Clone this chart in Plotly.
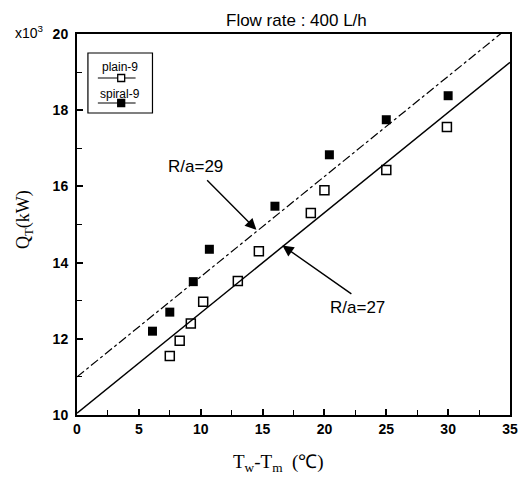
import plotly.graph_objects as go

# Measured heat transfer rate vs. wall-to-mean temperature difference
plain_dt = [7.5, 8.3, 9.2, 10.2, 13.0, 14.7, 18.9, 20.0, 25.0, 29.9]
plain_q = [11.55, 11.95, 12.4, 12.97, 13.52, 14.3, 15.3, 15.9, 16.43, 17.56]
spiral_dt = [6.1, 7.5, 9.4, 10.7, 16.0, 20.4, 25.0, 30.0]
spiral_q = [12.2, 12.7, 13.5, 14.35, 15.48, 16.83, 17.75, 18.38]

# Correlation lines (Q = a + b * dT)
fit_dt = [0, 35]
fit27_q = [10.05, 10.05 + 0.263 * 35]
fit29_q = [11.0, 11.0 + 0.263 * 35]

x_ticks = [0, 5, 10, 15, 20, 25, 30, 35]
y_ticks = [10, 12, 14, 16, 18, 20]

serif = "Liberation Serif, Times New Roman, serif"
sans = "Liberation Sans, Arial, sans-serif"

fig = go.Figure()
fig.add_trace(go.Scatter(x=fit_dt, y=fit27_q, mode="lines",
                         line=dict(color="black", width=1.5), showlegend=False))
fig.add_trace(go.Scatter(x=fit_dt, y=fit29_q, mode="lines",
                         line=dict(color="black", width=1.2, dash="dashdot"), showlegend=False))
fig.add_trace(go.Scatter(x=plain_dt, y=plain_q, mode="markers", name="plain-9",
                         marker=dict(symbol="square-open", size=9, color="black",
                                     line=dict(width=1.5)), showlegend=False))
fig.add_trace(go.Scatter(x=spiral_dt, y=spiral_q, mode="markers", name="spiral-9",
                         marker=dict(symbol="square", size=9, color="black"), showlegend=False))

axis_common = dict(showgrid=False, zeroline=False, showline=True, linecolor="black",
                   linewidth=2, mirror=True, ticks="inside", ticklen=6, tickwidth=1.5,
                   tickcolor="black",
                   tickfont=dict(family=sans, size=14, color="black", weight="bold"))

fig.update_xaxes(range=[0, 35], tickvals=x_ticks,
                 minor=dict(dtick=2.5, ticks="inside", ticklen=5, tickwidth=1.2, tickcolor="black"),
                 **axis_common)
fig.update_yaxes(range=[10, 20], tickvals=y_ticks, ticklabelstandoff=4,
                 minor=dict(dtick=1, ticks="inside", ticklen=5, tickwidth=1.2, tickcolor="black"),
                 **axis_common)

annotations = [
    dict(text="Flow rate : 400 L/h", xref="paper", yref="paper", x=(298 - 77) / 436, y=1.0,
         xanchor="center", yanchor="middle", yshift=14, showarrow=False,
         font=dict(family=sans, size=17, color="black")),
    dict(text="T<sub>w</sub>-T<sub>m</sub>  (℃)", xref="paper", yref="paper",
         x=(280 - 77) / 436, y=0, yanchor="middle", xanchor="center", yshift=-48,
         showarrow=False, font=dict(family=serif, size=19, color="black")),
    dict(text="Q<sub>T</sub>(kW)", xref="paper", yref="paper", x=0, y=(415 - 220) / 381,
         xanchor="center", yanchor="middle", xshift=-(77 - 24), textangle=-90,
         showarrow=False, font=dict(family=serif, size=18, color="black")),
    dict(text="x10<sup>3</sup>", xref="paper", yref="paper", x=0, y=1.0,
         xshift=-(77 - 46), xanchor="right", yanchor="middle", yshift=2, showarrow=False,
         font=dict(family=sans, size=14, color="black")),
    # correlation labels and pointer arrows
    dict(text="R/a=29", x=9.6, y=16.51, showarrow=False,
         font=dict(family=sans, size=17, color="black")),
    dict(text="", x=14.5, y=14.86, ax=10.4, ay=16.2, axref="x", ayref="y",
         showarrow=True, arrowhead=2, arrowsize=1.6, arrowwidth=1.4, arrowcolor="black"),
    dict(text="R/a=27", x=22.7, y=12.83, showarrow=False,
         font=dict(family=sans, size=17, color="black")),
    dict(text="", x=16.6, y=14.45, ax=22.3, ay=13.15, axref="x", ayref="y",
         showarrow=True, arrowhead=2, arrowsize=1.6, arrowwidth=1.4, arrowcolor="black"),
]

# Hand-built legend box in the upper-left corner
def px_x(p):
    return (p - 77) / 436


def px_y(p):
    return (415 - p) / 381


shapes = [dict(type="rect", xref="paper", yref="paper", x0=px_x(88), x1=px_x(153),
               y0=px_y(113), y1=px_y(53),
               line=dict(color="black", width=1.2), fillcolor="white", layer="above")]
for label, ty, sy, filled in [("plain-9", 67, 78, False), ("spiral-9", 94, 103, True)]:
    annotations.append(dict(text=label, xref="paper", yref="paper", x=px_x(120),
                            y=px_y(ty), xanchor="center", yanchor="middle", showarrow=False,
                            font=dict(family=sans, size=12, color="black")))
    shapes.append(dict(type="line", xref="paper", yref="paper", x0=px_x(98),
                       x1=px_x(136), y0=px_y(sy), y1=px_y(sy),
                       line=dict(color="black", width=1.2), layer="above"))
    shapes.append(dict(type="rect", xref="paper", yref="paper", x0=px_x(118),
                       x1=px_x(125), y0=px_y(sy + 3.5), y1=px_y(sy - 3.5),
                       line=dict(color="black", width=1.3),
                       fillcolor="black" if filled else "white", layer="above"))

fig.update_layout(width=530, height=479, margin=dict(l=77, r=17, t=34, b=64),
                  paper_bgcolor="white", plot_bgcolor="white",
                  annotations=annotations, shapes=shapes, showlegend=False)

fig.write_html("out.html")
